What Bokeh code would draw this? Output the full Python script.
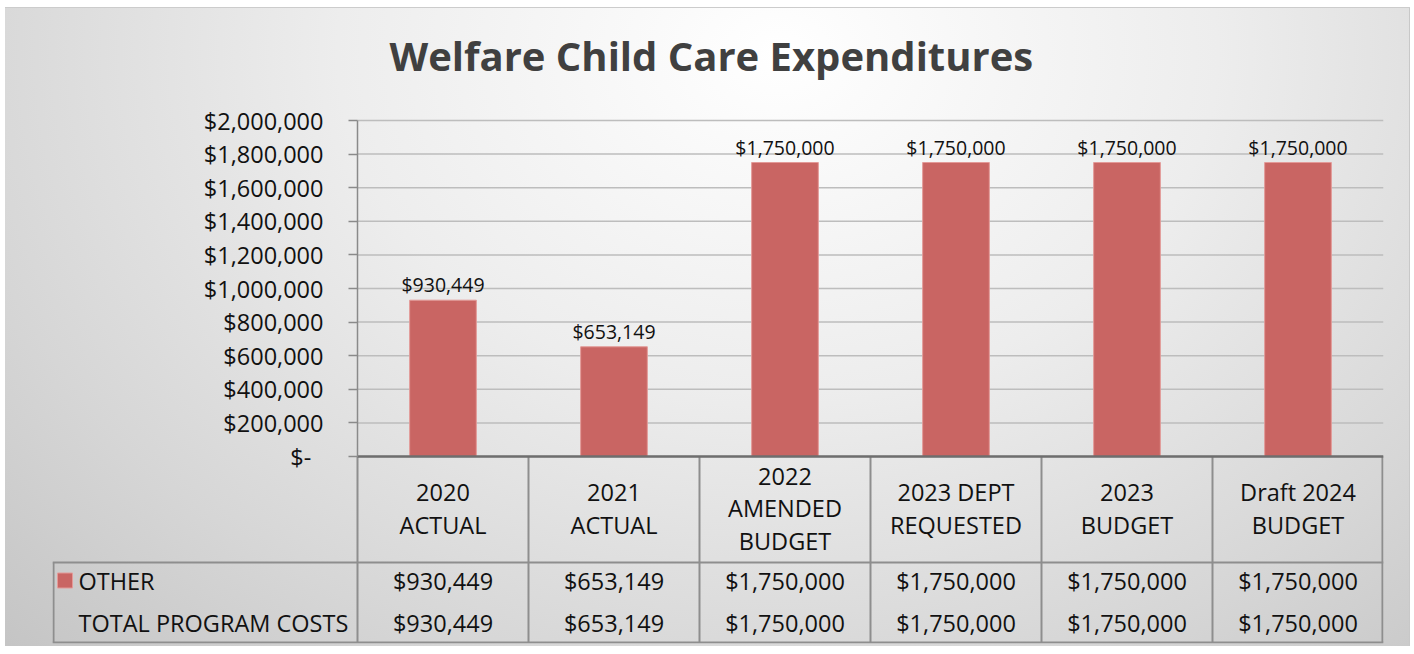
from bokeh.plotting import figure
from bokeh.models import (Range1d, FixedTicker, CustomJSTickFormatter, ColumnDataSource,
                          LinearAxis)
from bokeh.core.properties import value
from bokeh.embed import file_html
from bokeh.resources import INLINE

# ---- data ----
title_text = "Welfare Child Care Expenditures"
categories = ["2020\nACTUAL", "2021\nACTUAL", "2022\nAMENDED\nBUDGET",
              "2023 DEPT\nREQUESTED", "2023\nBUDGET", "Draft 2024\nBUDGET"]
other = [930449, 653149, 1750000, 1750000, 1750000, 1750000]
total_program_costs = [930449, 653149, 1750000, 1750000, 1750000, 1750000]
row_names = ["OTHER", "TOTAL PROGRAM COSTS"]
y_ticks = [0, 200000, 400000, 600000, 800000, 1000000, 1200000,
           1400000, 1600000, 1800000, 2000000]

# ---- styles ----
FONT = "Open Sans"
BAR = "#c96563"
BAR_LINE = "#e39a98"
GRID = "#bdbdbd"
AXIS = "#8a8a8a"
TABLE_LINE = "#8e8e8e"
TXT = "#111111"
W, H = 1414, 654
n = len(categories)
xs = [i + 0.5 for i in range(n)]
left = -1.7836           # left edge of the table's row-name column (category units)
YMAX = 2000000
PX = YMAX / 336          # chart: 336 px for 0..YMAX
TOP_PAD = 20             # px of headroom above YMAX so the top tick label shows
TABLE_PX = 187           # px of table below the chart


def fmt(v):
    return "${:,}".format(v)


p = figure(width=W, height=H, output_backend="svg", toolbar_location=None,
           x_range=Range1d(left, n),
           y_range=Range1d(-TABLE_PX * PX, YMAX + TOP_PAD * PX),
           x_axis_location=None, y_axis_location=None,
           min_border_left=52, min_border_right=31, min_border_top=120 - TOP_PAD,
           min_border_bottom=11)
p.extra_y_ranges = {"table": Range1d(0, 336 + TABLE_PX + TOP_PAD)}
p.border_fill_color = None
p.background_fill_color = None
p.outline_line_color = None
p.grid.visible = False
p.styles = {
    "background": "radial-gradient(ellipse farthest-corner at 55% 8%, "
                  "#ffffff 0%, #ededed 40%, #d6d6d6 75%, #c4c4c4 100%)",
    "box-shadow": "inset 0 7px 0 0 #ffffff, inset 5px 0 0 0 #ffffff, "
                  "inset -4px 0 0 0 #ffffff, inset 0 -8px 0 0 #ffffff, "
                  "inset 0 8px 0 0 #cccccc, inset -5px 0 0 0 #c8c8c8",
}

p.title.text = title_text
p.title.text_font = FONT
p.title.text_font_size = "40px"
p.title.text_font_style = "bold"
p.title.text_color = "#404040"
p.title.align = "left"
p.title.offset = 337
p.title.standoff = 35

# y axis sitting at x = 0 (left edge of the chart area)
yax = LinearAxis(fixed_location=0, bounds=(0, YMAX))
yax.ticker = FixedTicker(ticks=y_ticks)
yax.formatter = CustomJSTickFormatter(code="""
    if (tick == 0) { return "$-\u00a0\u00a0"; }
    return "$" + tick.toLocaleString("en-US");
""")
yax.axis_line_color = AXIS
yax.axis_line_width = 1.5
yax.major_tick_line_color = AXIS
yax.major_tick_line_width = 1.5
yax.major_tick_out = 9
yax.major_tick_in = 0
yax.minor_tick_line_color = None
yax.major_label_standoff = 25
yax.major_label_text_font = FONT
yax.major_label_text_font_size = "23.5px"
yax.major_label_text_color = TXT
p.add_layout(yax, "left")

# horizontal gridlines across the chart area, one per tick
p.segment(x0=[0] * len(y_ticks), y0=y_ticks, x1=[n] * len(y_ticks), y1=y_ticks,
          line_color=GRID, line_width=1.5)

# bars and value labels
src = ColumnDataSource(dict(x=xs, top=other, label=[fmt(v) for v in other]))
p.vbar(x="x", top="top", bottom=0, width=0.39, source=src,
       fill_color=BAR, line_color=BAR_LINE, line_width=1)
p.text(x="x", y="top", text="label", source=src, text_align="center",
       text_baseline="bottom", y_offset=-2, text_font=value(FONT),
       text_font_size="19.5px", text_color=TXT)

# ---- data table (pixel-like range "table": 0 = bottom line, 187 = axis line) ----
T = "table"
vx = [0] + list(range(1, n)) + [n - 0.006]
p.segment(x0=vx, y0=[1] * len(vx), x1=vx, y1=[187] * len(vx),
          line_color=TABLE_LINE, line_width=2, y_range_name=T)
p.segment(x0=[left, left, left + 0.006], y0=[81, 1, 1], x1=[n, n, left + 0.006],
          y1=[81, 1, 81], line_color=TABLE_LINE, line_width=2, y_range_name=T)
# x-axis line (top of table)
p.segment(x0=[0], y0=[187], x1=[n], y1=[187], line_color="#6e6e6e",
          line_width=2.5, y_range_name=T)

# header labels
p.text(x=xs, y=[135] * n, text=categories, text_align="center",
       text_baseline="middle", text_line_height=1.03, text_font=value(FONT),
       text_font_size="23.5px", text_color=TXT, y_range_name=T)
# row values
p.text(x=xs, y=[63] * n, text=[fmt(v) for v in other], text_align="center",
       text_baseline="middle", text_font=value(FONT), text_font_size="23.5px",
       text_color=TXT, y_range_name=T)
p.text(x=xs, y=[21] * n, text=[fmt(v) for v in total_program_costs],
       text_align="center", text_baseline="middle", text_font=value(FONT),
       text_font_size="23.5px", text_color=TXT, y_range_name=T)
# row names
p.text(x=[-1.6316, -1.6316], y=[63, 21], text=row_names, text_align="left",
       text_baseline="middle", text_font=value(FONT), text_font_size="23.5px",
       text_color=TXT, y_range_name=T)
# legend key
p.scatter(x=[-1.7105], y=[63], marker="square", size=15, fill_color=BAR,
          line_color=BAR_LINE, line_width=1, y_range_name=T)

open("out.html", "w").write(file_html(p, INLINE))
